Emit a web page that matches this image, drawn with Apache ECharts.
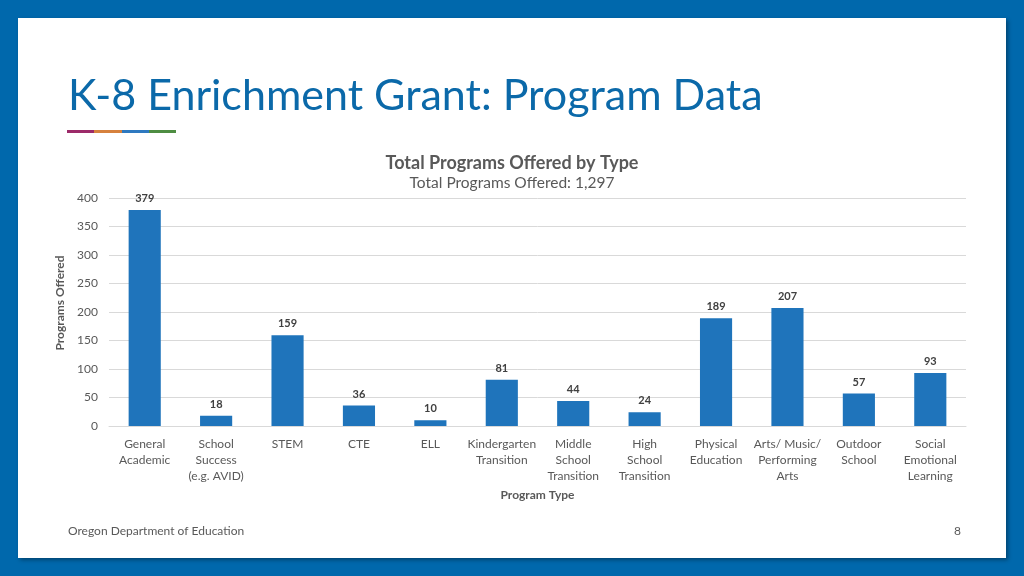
<!DOCTYPE html>
<html>
<head>
<meta charset="utf-8">
<script src="https://cdn.jsdelivr.net/npm/echarts@6/dist/echarts.min.js"></script>
<style>
html,body{margin:0;padding:0;background:#0068ac;}
#c{width:1024px;height:576px;}
</style>
</head>
<body>
<div id="c"></div>
<script>
const categories = [
  "General\nAcademic",
  "School\nSuccess\n(e.g. AVID)",
  "STEM",
  "CTE",
  "ELL",
  "Kindergarten\nTransition",
  "Middle\nSchool\nTransition",
  "High\nSchool\nTransition",
  "Physical\nEducation",
  "Arts/ Music/\nPerforming\nArts",
  "Outdoor\nSchool",
  "Social\nEmotional\nLearning"
];
const programsOffered = [379, 18, 159, 36, 10, 81, 44, 24, 189, 207, 57, 93];
const yTicks = { min: 0, max: 400, interval: 50 };
const slideTitle = "K-8 Enrichment Grant: Program Data";
const chartTitle = "Total Programs Offered by Type";
const chartSubtitle = "Total Programs Offered: 1,297";
const footerText = "Oregon Department of Education";
const pageNumber = "8";

const FONT = "Lato, 'Open Sans', sans-serif";
const chart = echarts.init(document.getElementById('c'), null, {renderer: 'canvas'});
chart.setOption({
  backgroundColor: '#0068ac',
  animation: false,
  textStyle: { fontFamily: FONT },
  graphic: [
    { type: 'rect', shape: { x: 18, y: 18, width: 988, height: 540 },
      style: { fill: '#ffffff', shadowBlur: 4, shadowOffsetX: 2, shadowOffsetY: 2, shadowColor: 'rgba(0,0,0,0.35)' }, z: -10 },
    { type: 'text', left: 68, top: 75,
      style: { text: slideTitle, fill: '#0b69a9', font: "43px Lato, 'Open Sans', sans-serif" } },
    { type: 'rect', shape: { x: 67, y: 130, width: 27, height: 3 }, style: { fill: '#9c2a69' } },
    { type: 'rect', shape: { x: 94, y: 130, width: 28, height: 3 }, style: { fill: '#d6813d' } },
    { type: 'rect', shape: { x: 122, y: 130, width: 27, height: 3 }, style: { fill: '#2e79c0' } },
    { type: 'rect', shape: { x: 149, y: 130, width: 27, height: 3 }, style: { fill: '#4e8d42' } },
    { type: 'text', left: 68, top: 525,
      style: { text: footerText, fill: '#595959', font: "12px Lato, 'Open Sans', sans-serif" } },
    { type: 'text', left: 954, top: 525,
      style: { text: pageNumber, fill: '#595959', font: "12px Lato, 'Open Sans', sans-serif" } }
  ],
  title: {
    text: chartTitle,
    subtext: chartSubtitle,
    left: 'center',
    top: 149,
    itemGap: 3,
    textStyle: { fontFamily: FONT, fontSize: 18, fontWeight: 'bold', color: '#595959' },
    subtextStyle: { fontFamily: FONT, fontSize: 15.5, color: '#595959' }
  },
  grid: { left: 109, right: 58, top: 198, bottom: 150, containLabel: false },
  xAxis: {
    type: 'category',
    data: categories,
    name: 'Program Type',
    nameLocation: 'middle',
    nameGap: 63,
    nameTextStyle: { fontFamily: FONT, fontSize: 12, fontWeight: 'bold', color: '#595959' },
    axisLine: { lineStyle: { color: '#d9d9d9' } },
    axisTick: { show: false },
    axisLabel: { interval: 0, margin: 10, fontFamily: FONT, fontSize: 12, color: '#595959', lineHeight: 16 }
  },
  yAxis: {
    type: 'value',
    min: yTicks.min, max: yTicks.max, interval: yTicks.interval,
    name: 'Programs Offered',
    nameLocation: 'middle',
    nameGap: 36,
    nameRotate: 90,
    nameTextStyle: { fontFamily: FONT, fontSize: 12, fontWeight: 'bold', color: '#595959', padding: [0, 0, 0, 18] },
    axisLine: { show: false },
    axisTick: { show: false },
    axisLabel: { fontFamily: FONT, fontSize: 12, color: '#595959', margin: 11 },
    splitLine: { lineStyle: { color: '#d9d9d9' } }
  },
  series: [{
    type: 'bar',
    data: programsOffered,
    barWidth: '45%',
    itemStyle: { color: '#1f74bb' },
    label: { show: true, position: 'top', distance: 6, fontFamily: FONT, fontSize: 11, fontWeight: 'bold', color: '#404040' }
  }]
});
</script>
</body>
</html>
